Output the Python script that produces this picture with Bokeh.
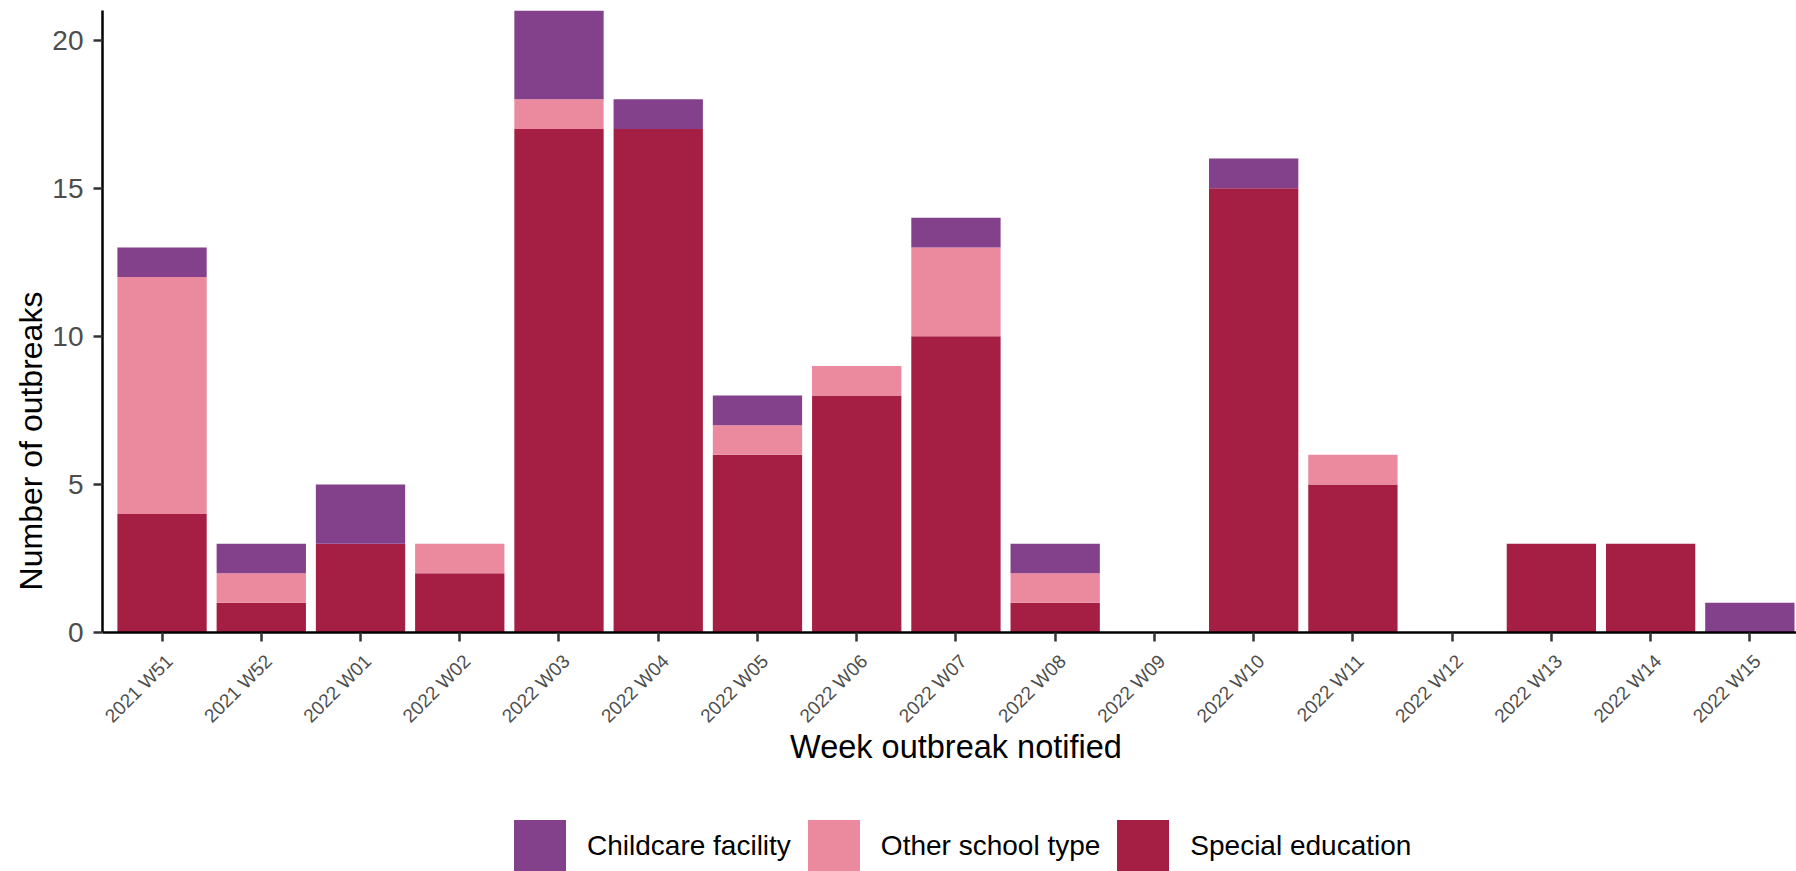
import math
from bokeh.plotting import figure
from bokeh.models import Range1d, FixedTicker, Legend, LegendItem, ColumnDataSource, Label
from bokeh.core.properties import value
from bokeh.embed import file_html
from bokeh.resources import INLINE

weeks = ["2021 W51", "2021 W52", "2022 W01", "2022 W02", "2022 W03", "2022 W04",
         "2022 W05", "2022 W06", "2022 W07", "2022 W08", "2022 W09", "2022 W10",
         "2022 W11", "2022 W12", "2022 W13", "2022 W14", "2022 W15"]
special_education = [4, 1, 3, 2, 17, 17, 6, 8, 10, 1, 0, 15, 5, 0, 3, 3, 0]
other_school_type = [8, 1, 0, 1, 1, 0, 1, 1, 3, 1, 0, 0, 1, 0, 0, 0, 0]
childcare_facility = [1, 1, 2, 0, 3, 1, 1, 0, 1, 1, 0, 1, 0, 0, 0, 0, 1]
y_ticks = [0, 5, 10, 15, 20]

C_SPECIAL = "#A51F44"
C_OTHER = "#EB899F"
C_CHILD = "#83418B"
FONT = "Liberation Sans"

xs = list(range(len(weeks)))
source = ColumnDataSource(dict(x=xs, week=weeks, base=[0] * len(weeks),
                               special=special_education,
                               other=other_school_type, childcare=childcare_facility))

p = figure(width=1796, height=871, output_backend="svg", toolbar_location=None,
           x_range=Range1d(-0.6, 16.47), y_range=Range1d(-8.07, 21),
           min_border_left=102, min_border_top=10, min_border_right=0,
           min_border_bottom=0)
p.outline_line_color = None
p.background_fill_color = "white"
p.border_fill_color = "white"
p.xgrid.visible = False
p.ygrid.visible = False

rs = p.vbar_stack(["special", "other", "childcare"], x="x", width=0.9,
                  color=[C_SPECIAL, C_OTHER, C_CHILD], line_color=None, source=source)

# x axis (line + ticks at y = 0); labels drawn as rotated text, ggplot-style
xa = p.xaxis[0]
xa.fixed_location = 0
xa.ticker = FixedTicker(ticks=xs)
xa.major_label_overrides = {i: "" for i in xs}
xa.major_tick_out = 9
xa.major_tick_in = 0
xa.minor_tick_out = 0
xa.minor_tick_in = 0
xa.axis_line_color = "black"
xa.axis_line_width = 2.5
xa.major_tick_line_color = "#333333"
xa.major_tick_line_width = 2.5

p.text(x="x", y="base", text="week", source=source, angle=math.pi / 4,
       x_offset=0, y_offset=18, text_align="right", text_baseline="top",
       text_font=value(FONT), text_font_size="19px", text_color="#4D4D4D")

p.add_layout(Label(x=8.0, y=-3.88, text="Week outbreak notified", text_align="center",
                   text_baseline="middle", text_font=FONT, text_font_size="32.5px",
                   text_color="black"))

# y axis
ya = p.yaxis[0]
ya.bounds = (0, 21)
ya.ticker = FixedTicker(ticks=y_ticks)
ya.major_label_text_font = FONT
ya.major_label_text_font_size = "28px"
ya.major_label_text_color = "#4D4D4D"
ya.major_label_standoff = 10
ya.major_tick_out = 9
ya.major_tick_in = 0
ya.minor_tick_out = 0
ya.minor_tick_in = 0
ya.axis_line_color = "black"
ya.axis_line_width = 2.5
ya.major_tick_line_color = "#333333"
ya.major_tick_line_width = 2.5
ya.axis_label = "Number of outbreaks"
ya.axis_label_text_font = FONT
ya.axis_label_text_font_size = "32px"
ya.axis_label_text_font_style = "normal"
ya.axis_label_text_color = "black"
ya.axis_label_standoff = 0

legend = Legend(items=[
    LegendItem(label="Childcare facility", renderers=[rs[2]]),
    LegendItem(label="Other school type", renderers=[rs[1]]),
    LegendItem(label="Special education", renderers=[rs[0]]),
], orientation="horizontal", location=(405, -7),
    glyph_width=65, glyph_height=65, label_standoff=15, spacing=10,
    padding=0, margin=0, border_line_color=None, background_fill_alpha=0,
    label_text_font=FONT, label_text_font_size="28px", label_text_color="black")
p.add_layout(legend, "center")

open("out.html", "w").write(file_html(p, INLINE))
